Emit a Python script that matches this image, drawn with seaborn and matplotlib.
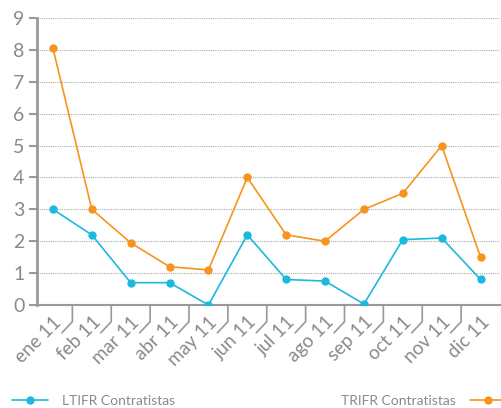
import matplotlib
matplotlib.use("Agg")
import matplotlib.pyplot as plt
import matplotlib.transforms as mtransforms
import seaborn as sns
import pandas as pd
import numpy as np

months = ["ene 11", "feb 11", "mar 11", "abr 11", "may 11", "jun 11",
          "jul 11", "ago 11", "sep 11", "oct 11", "nov 11", "dic 11"]
ltifr = [3.0, 2.2, 0.7, 0.7, 0.0, 2.2, 0.8, 0.75, 0.03, 2.05, 2.1, 0.8]
trifr = [8.05, 3.0, 1.95, 1.2, 1.1, 4.0, 2.2, 2.0, 3.0, 3.5, 5.0, 1.5]
yticks = [0, 1, 2, 3, 4, 5, 6, 7, 8, 9]
series_names = ["LTIFR Contratistas", "TRIFR Contratistas"]
colors = ["#1BB9E0", "#F7941D"]

sns.set_theme(style="white")
plt.rcParams["font.family"] = ["Lato", "DejaVu Sans"]
text_color = "#8a8a8a"
axis_color = "#999999"

df = pd.DataFrame({
    "pos": list(range(len(months))) * 2,
    "value": ltifr + trifr,
    "serie": [series_names[0]] * len(months) + [series_names[1]] * len(months),
})

fig = plt.figure(figsize=(5.01, 4.08), dpi=100)
ax = fig.add_axes([37 / 501, 1 - 305 / 408, (500 - 37) / 501, (305 - 18) / 408])

sns.lineplot(data=df, x="pos", y="value", hue="serie", palette=colors,
             marker="o", markersize=6, markeredgewidth=0, linewidth=1.2,
             ax=ax, legend=False, zorder=3)

ax.set_ylim(0, 9)
ax.set_xlim(-0.41, 11.5)
ax.set_yticks(yticks)
ax.set_yticklabels([str(v) for v in yticks], fontsize=14, color=text_color)
ax.set_xticks(range(len(months)))
ax.set_xticklabels(months, rotation=45, ha="right", rotation_mode="anchor",
                   fontsize=13.5, color=text_color)
ax.tick_params(axis="x", length=0, pad=6)
ax.tick_params(axis="y", length=6, width=1.5, color=axis_color, pad=3, left=True)
ax.set_xlabel("")
ax.set_ylabel("")

ax.grid(axis="y", linestyle=(0, (1, 1)), color="#aaaaaa", linewidth=0.8, zorder=0)
ax.grid(axis="x", visible=False)
for s in ["top", "right"]:
    ax.spines[s].set_visible(False)
ax.spines["left"].set_color(axis_color)
ax.spines["left"].set_linewidth(2)
ax.spines["bottom"].set_color(axis_color)
ax.spines["bottom"].set_linewidth(1.5)

# boundary ticks with slanted connectors
trans = mtransforms.blended_transform_factory(ax.transData, ax.transAxes)
for i in range(len(months) - 1):
    b = i + 0.5
    ax.plot([b, b, b - 0.27], [0, -0.058, -0.097], color=axis_color, lw=1.2,
            transform=trans, clip_on=False, solid_joinstyle="miter")

h1 = plt.Line2D([], [], color=colors[0], marker="o", markersize=6,
                markeredgewidth=0, linewidth=1.2)
h2 = plt.Line2D([], [], color=colors[1], marker="o", markersize=6,
                markeredgewidth=0, linewidth=1.2)
leg1 = fig.legend([h1], [series_names[0]], loc="center left",
                  bbox_to_anchor=(12 / 501, 0.017), frameon=False,
                  borderpad=0, borderaxespad=0, handlelength=2.6,
                  handletextpad=1.0, fontsize=10, labelcolor=text_color)
leg2 = fig.legend([h2], [series_names[1]], loc="center right",
                  bbox_to_anchor=(506 / 501, 0.017), frameon=False,
                  borderpad=0, borderaxespad=0, handlelength=2.6,
                  handletextpad=1.0, fontsize=10, labelcolor=text_color,
                  markerfirst=False)

fig.savefig("out.png", dpi=100)
